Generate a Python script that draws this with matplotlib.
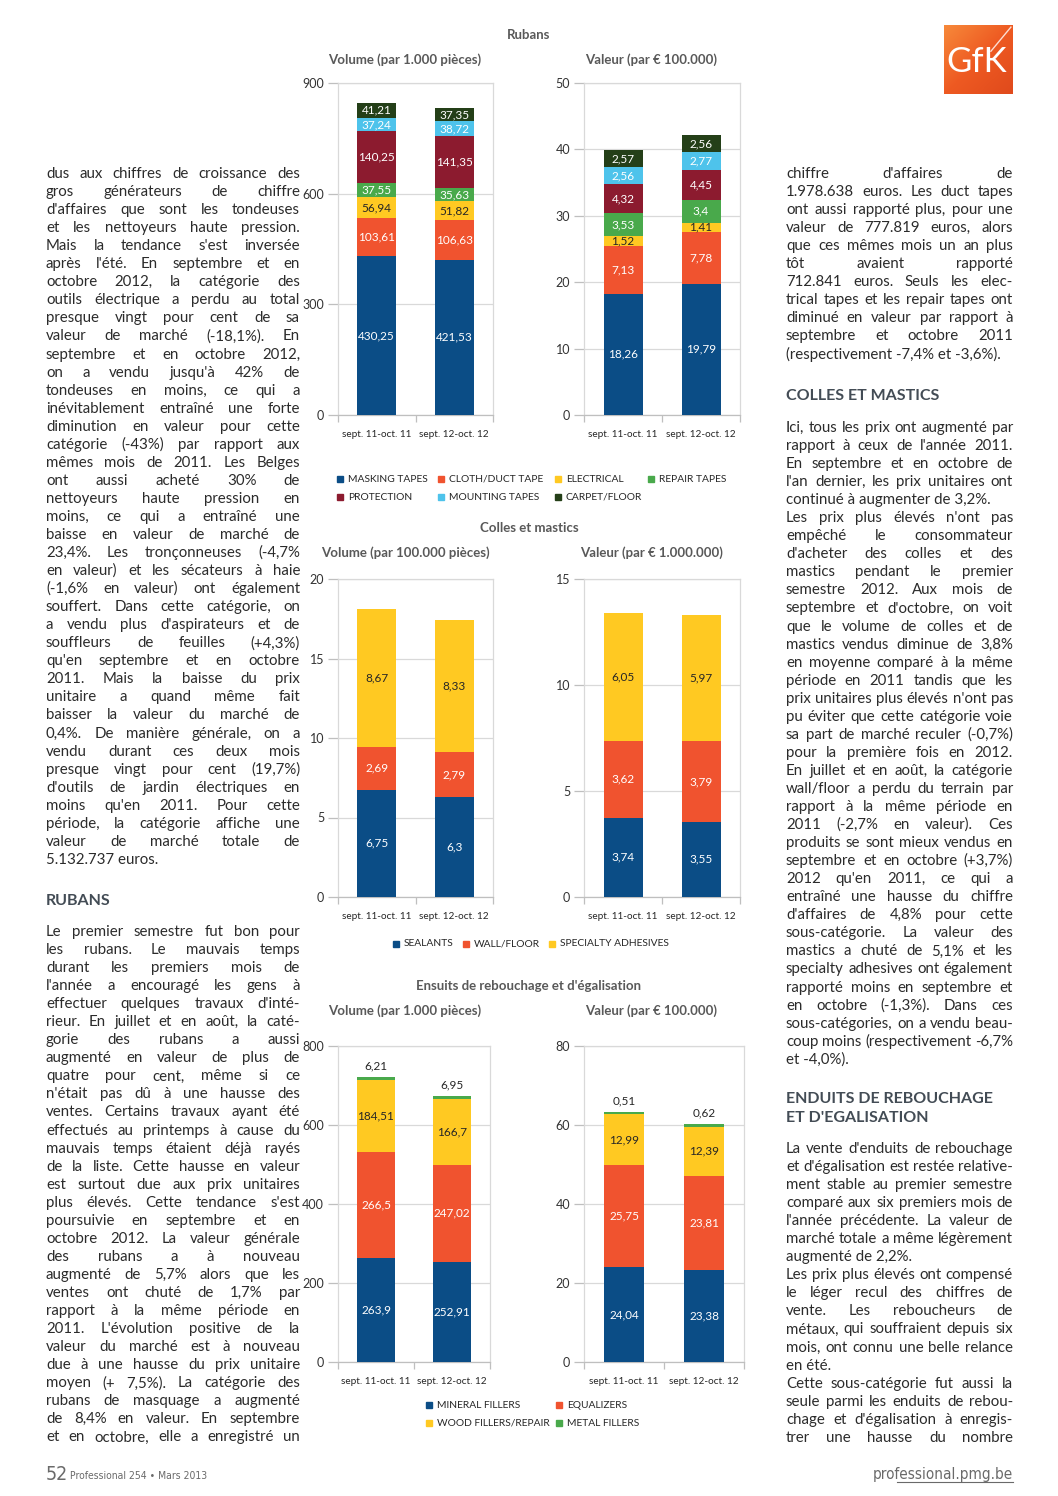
import matplotlib
matplotlib.use('Agg')
import numpy as np
import matplotlib.pyplot as plt
from matplotlib.patches import Rectangle
from matplotlib.lines import Line2D

W, H = 1058, 1496

# ---- data -------------------------------------------------------------
periods = ['sept. 11-oct. 11', 'sept. 12-oct. 12']

ruban_names = ['MASKING TAPES', 'CLOTH/DUCT TAPE', 'ELECTRICAL', 'REPAIR TAPES',
               'PROTECTION', 'MOUNTING TAPES', 'CARPET/FLOOR']
ruban_volume = [[430.25, 421.53], [103.61, 106.63], [56.94, 51.82], [37.55, 35.63],
                [140.25, 141.35], [37.24, 38.72], [41.21, 37.35]]
ruban_valeur = [[18.26, 19.79], [7.13, 7.78], [1.52, 1.41], [3.53, 3.4],
                [4.32, 4.45], [2.56, 2.77], [2.57, 2.56]]

colles_names = ['SEALANTS', 'WALL/FLOOR', 'SPECIALTY ADHESIVES']
colles_volume = [[6.75, 6.3], [2.69, 2.79], [8.67, 8.33]]
colles_valeur = [[3.74, 3.55], [3.62, 3.79], [6.05, 5.97]]

enduits_names = ['MINERAL FILLERS', 'EQUALIZERS', 'WOOD FILLERS/REPAIR', 'METAL FILLERS']
enduits_volume = [[263.9, 252.91], [266.5, 247.02], [184.51, 166.7], [6.21, 6.95]]
enduits_valeur = [[24.04, 23.38], [25.75, 23.81], [12.99, 12.39], [0.51, 0.62]]

BLUE = '#0B4D86'
ORANGE = '#F0532F'
YELLOW = '#FFC922'
GREEN = '#49A94B'
DARKRED = '#8C1B2F'
LIGHTBLUE = '#4EC3EB'
DARKGREEN = '#243F18'

ruban_colors = [BLUE, ORANGE, YELLOW, GREEN, DARKRED, LIGHTBLUE, DARKGREEN]
colles_colors = [BLUE, ORANGE, YELLOW]
enduits_colors = [BLUE, ORANGE, YELLOW, GREEN]

# ---- text -------------------------------------------------------------
left_1 = [[
    "dus aux chiffres de croissance des",
    "gros générateurs de chiffre",
    "d'affaires que sont les tondeuses",
    "et les nettoyeurs haute pression.",
    "Mais la tendance s'est inversée",
    "après l'été. En septembre et en",
    "octobre 2012, la catégorie des",
    "outils électrique a perdu au total",
    "presque vingt pour cent de sa",
    "valeur de marché (-18,1%). En",
    "septembre et en octobre 2012,",
    "on a vendu jusqu'à 42% de",
    "tondeuses en moins, ce qui a",
    "inévitablement entraîné une forte",
    "diminution en valeur pour cette",
    "catégorie (-43%) par rapport aux",
    "mêmes mois de 2011. Les Belges",
    "ont aussi acheté 30% de",
    "nettoyeurs haute pression en",
    "moins, ce qui a entraîné une",
    "baisse en valeur de marché de",
    "23,4%. Les tronçonneuses (-4,7%",
    "en valeur) et les sécateurs à haie",
    "(-1,6% en valeur) ont également",
    "souffert. Dans cette catégorie, on",
    "a vendu plus d'aspirateurs et de",
    "souffleurs de feuilles (+4,3%)",
    "qu'en septembre et en octobre",
    "2011. Mais la baisse du prix",
    "unitaire a quand même fait",
    "baisser la valeur du marché de",
    "0,4%. De manière générale, on a",
    "vendu durant ces deux mois",
    "presque vingt pour cent (19,7%)",
    "d'outils de jardin électriques en",
    "moins qu'en 2011. Pour cette",
    "période, la catégorie affiche une",
    "valeur de marché totale de",
    "5.132.737 euros.",
]]

left_2 = [[
    "Le premier semestre fut bon pour",
    "les rubans. Le mauvais temps",
    "durant les premiers mois de",
    "l'année a encouragé les gens à",
    "effectuer quelques travaux d'inté-",
    "rieur. En juillet et en août, la caté-",
    "gorie des rubans a aussi",
    "augmenté en valeur de plus de",
    "quatre pour cent, même si ce",
    "n'était pas dû à une hausse des",
    "ventes. Certains travaux ayant été",
    "effectués au printemps à cause du",
    "mauvais temps étaient déjà rayés",
    "de la liste. Cette hausse en valeur",
    "est surtout due aux prix unitaires",
    "plus élevés. Cette tendance s'est",
    "poursuivie en septembre et en",
    "octobre 2012. La valeur générale",
    "des rubans a à nouveau",
    "augmenté de 5,7% alors que les",
    "ventes ont chuté de 1,7% par",
    "rapport à la même période en",
    "2011. L'évolution positive de la",
    "valeur du marché est à nouveau",
    "due à une hausse du prix unitaire",
    "moyen (+ 7,5%). La catégorie des",
    "rubans de masquage a augmenté",
    "de 8,4% en valeur. En septembre",
    "et en octobre, elle a enregistré un",
]]

right_1 = [[
    "chiffre d'affaires de",
    "1.978.638 euros. Les duct tapes",
    "ont aussi rapporté plus, pour une",
    "valeur de 777.819 euros, alors",
    "que ces mêmes mois un an plus",
    "tôt avaient rapporté",
    "712.841 euros. Seuls les elec-",
    "trical tapes et les repair tapes ont",
    "diminué en valeur par rapport à",
    "septembre et octobre 2011",
    "(respectivement -7,4% et -3,6%).",
]]

right_2 = [[
    "Ici, tous les prix ont augmenté par",
    "rapport à ceux de l'année 2011.",
    "En septembre et en octobre de",
    "l'an dernier, les prix unitaires ont",
    "continué à augmenter de 3,2%.",
], [
    "Les prix plus élevés n'ont pas",
    "empêché le consommateur",
    "d'acheter des colles et des",
    "mastics pendant le premier",
    "semestre 2012. Aux mois de",
    "septembre et d'octobre, on voit",
    "que le volume de colles et de",
    "mastics vendus diminue de 3,8%",
    "en moyenne comparé à la même",
    "période en 2011 tandis que les",
    "prix unitaires plus élevés n'ont pas",
    "pu éviter que cette catégorie voie",
    "sa part de marché reculer (-0,7%)",
    "pour la première fois en 2012.",
    "En juillet et en août, la catégorie",
    "wall/floor a perdu du terrain par",
    "rapport à la même période en",
    "2011 (-2,7% en valeur). Ces",
    "produits se sont mieux vendus en",
    "septembre et en octobre (+3,7%)",
    "2012 qu'en 2011, ce qui a",
    "entraîné une hausse du chiffre",
    "d'affaires de 4,8% pour cette",
    "sous-catégorie. La valeur des",
    "mastics a chuté de 5,1% et les",
    "specialty adhesives ont également",
    "rapporté moins en septembre et",
    "en octobre (-1,3%). Dans ces",
    "sous-catégories, on a vendu beau-",
    "coup moins (respectivement -6,7%",
    "et -4,0%).",
]]

right_3 = [[
    "La vente d'enduits de rebouchage",
    "et d'égalisation est restée relative-",
    "ment stable au premier semestre",
    "comparé aux six premiers mois de",
    "l'année précédente. La valeur de",
    "marché totale a même légèrement",
    "augmenté de 2,2%.",
], [
    "Les prix plus élevés ont compensé",
    "le léger recul des chiffres de",
    "vente. Les reboucheurs de",
    "métaux, qui souffraient depuis six",
    "mois, ont connu une belle relance",
    "en été.",
], [
    "Cette sous-catégorie fut aussi la",
    "seule parmi les enduits de rebou-",
    "chage et d'égalisation à enregis-",
    "trer une hausse du nombre",
]]

SANS = ['Lato', 'DejaVu Sans']
BODY = dict(family=SANS, size=10.8, weight='normal', color='#2b2b2b', va='baseline', ha='left')
HEAD = dict(family=SANS, size=11.5, weight='bold', color='#434c55', va='center', ha='left')
TITLE = dict(family=SANS, size=9.5, weight='bold', color='#595959', va='center', ha='center')
FOOT = dict(family='DejaVu Sans', stretch='condensed', color='#6a6a6a', va='baseline')

fig = plt.figure(figsize=(W / 100, H / 100), dpi=100)
fig.patch.set_facecolor('white')


def fx(x):
    return x / W


def fy(y):
    return 1 - y / H


def column(paras, x0, x1, y0, cont=False, step=18.05):
    r = fig.canvas.get_renderer()
    y = y0
    for p, para in enumerate(paras):
        for k, line in enumerate(para):
            base = fy(y + 5)
            last = (k == len(para) - 1) and not (cont and p == len(paras) - 1)
            words = line.split()
            if last or len(words) == 1:
                fig.text(fx(x0), base, line, **BODY)
            else:
                txts = [fig.text(0, base, w, **BODY) for w in words]
                ws = [t.get_window_extent(r).width for t in txts]
                gap = max((x1 - x0 - sum(ws)) / (len(words) - 1), 2.5)
                x = x0
                for t, w in zip(txts, ws):
                    t.set_x(fx(x))
                    x += w + gap
            y += step


def fmt(v):
    return '{:g}'.format(v).replace('.', ',')


def chart(box, data, colors, ymax, step, dark_idx=(), above_idx=()):
    x0, y0, x1, y1 = box
    ax = fig.add_axes([fx(x0), fy(y1), fx(x1 - x0), (y1 - y0) / H])
    xs = np.arange(len(periods))
    bottom = np.zeros(len(periods))
    for i, (vals, c) in enumerate(zip(data, colors)):
        vals = np.array(vals)
        ax.bar(xs, vals, 0.5, bottom=bottom, color=c, zorder=3)
        for x, b, v in zip(xs, bottom, vals):
            if i in above_idx:
                ax.annotate(fmt(v), (x, b + v), xytext=(0, 4), textcoords='offset points',
                            ha='center', va='bottom', fontsize=8.5, color='#262626',
                            family=SANS)
            else:
                col = '#262626' if i in dark_idx else 'white'
                ax.text(x, b + v / 2, fmt(v), ha='center', va='center', fontsize=8.5,
                        color=col, family=SANS, zorder=4)
        bottom = bottom + vals
    ax.set_xlim(-0.5, len(periods) - 0.5)
    ax.set_ylim(0, ymax)
    ax.set_yticks(np.arange(0, ymax + step / 2, step))
    ax.yaxis.grid(True, color='#d9d9d9', lw=0.9, zorder=0)
    for s in ['left', 'right', 'top']:
        ax.spines[s].set_color('#d9d9d9')
        ax.spines[s].set_linewidth(0.9)
    ax.spines['bottom'].set_color('#bfbfbf')
    ax.spines['bottom'].set_linewidth(0.9)
    ax.tick_params(axis='y', length=7, width=0.9, color='#bfbfbf', labelsize=9,
                   labelcolor='#333333', pad=3)
    for t in ax.get_yticklabels():
        t.set_family(SANS)
    ax.set_xticks([-0.5, 0.5, 1.5])
    ax.set_xticklabels([])
    ax.set_xticks(xs, minor=True)
    ax.set_xticklabels(periods, minor=True, fontsize=7.2, color='#262626', family=SANS)
    ax.tick_params(axis='x', which='major', length=5, width=0.9, color='#bfbfbf')
    ax.tick_params(axis='x', which='minor', length=0, pad=11)
    return ax


def legend(items, colors):
    for (name, x, y), c in zip(items, colors):
        fig.patches.append(Rectangle((fx(x), fy(y + 3)), fx(6), 6 / H, color=c,
                                     transform=fig.transFigure, figure=fig))
        fig.text(fx(x + 11), fy(y), name, fontsize=7.4, color='#262626', family=SANS,
                 va='center', ha='left')


# ---- charts -----------------------------------------------------------
fig.text(fx(529), fy(35), 'Rubans', **TITLE)
fig.text(fx(405), fy(60), 'Volume (par 1.000 pièces)', **TITLE)
fig.text(fx(651), fy(60), 'Valeur (par € 100.000)', **TITLE)
chart((338, 83, 493, 415), ruban_volume, ruban_colors, 900, 300, dark_idx=(2,))
chart((584, 83, 740, 415), ruban_valeur, ruban_colors, 50, 10, dark_idx=(2,))
rpos = [(337, 479), (438, 479), (555, 479), (648, 479), (337, 497), (438, 497), (555, 497)]
legend([(n, x, y) for n, (x, y) in zip(ruban_names, rpos)], ruban_colors)

fig.text(fx(529), fy(528), 'Colles et mastics', **TITLE)
fig.text(fx(405), fy(553), 'Volume (par 100.000 pièces)', **TITLE)
fig.text(fx(652), fy(553), 'Valeur (par € 1.000.000)', **TITLE)
chart((338, 579, 493, 897), colles_volume, colles_colors, 20, 5, dark_idx=(2,))
chart((584, 579, 740, 897), colles_valeur, colles_colors, 15, 5, dark_idx=(2,))
cpos = [(393, 944), (463, 944), (549, 944)]
legend([(n, x, y) for n, (x, y) in zip(colles_names, cpos)], colles_colors)

fig.text(fx(529), fy(986), "Ensuits de rebouchage et d'égalisation", **TITLE)
fig.text(fx(405), fy(1011), 'Volume (par 1.000 pièces)', **TITLE)
fig.text(fx(651), fy(1011), 'Valeur (par € 100.000)', **TITLE)
chart((338, 1046, 490, 1362), enduits_volume, enduits_colors, 800, 200,
      dark_idx=(2,), above_idx=(3,))
chart((584, 1046, 744, 1362), enduits_valeur, enduits_colors, 80, 20,
      dark_idx=(2,), above_idx=(3,))
epos = [(426, 1405), (556, 1405), (426, 1423), (556, 1423)]
legend([(n, x, y) for n, (x, y) in zip(enduits_names, epos)], enduits_colors)

# ---- text columns -----------------------------------------------------
column(left_1, 46, 300, 173)
fig.text(fx(46), fy(901), 'RUBANS', **HEAD)
column(left_2, 46, 300, 931, cont=True)

column(right_1, 786, 1013, 173)
fig.text(fx(786), fy(396), 'COLLES ET MASTICS', **HEAD)
column(right_2, 786, 1013, 427)
fig.text(fx(786), fy(1099), 'ENDUITS DE REBOUCHAGE', **HEAD)
fig.text(fx(786), fy(1118), "ET D'EGALISATION", **HEAD)
column(right_3, 786, 1013, 1148, cont=True)

# ---- logo -------------------------------------------------------------
lax = fig.add_axes([fx(944), fy(94), fx(69), 69 / H])
grad = np.linspace(0, 1, 64)
g = (grad[None, :] + grad[:, None]) / 2
lax.imshow(g, cmap=matplotlib.colors.LinearSegmentedColormap.from_list(
    'gfk', ['#F7893A', '#EE5A22', '#E04A1C']), extent=(0, 1, 0, 1), aspect='auto')
lax.text(0.48, 0.46, 'GfK', color='white', fontsize=25, family=SANS, weight='normal',
         ha='center', va='center')
lax.plot([0.97, 0.68], [0.97, 0.62], color='white', lw=1, alpha=0.8)
lax.set_xlim(0, 1)
lax.set_ylim(0, 1)
lax.axis('off')

# ---- footer -----------------------------------------------------------
fig.text(fx(46), fy(1480), '52', fontsize=14, ha='left', **FOOT)
fig.text(fx(70), fy(1479), 'Professional 254 • Mars 2013', fontsize=7.5, ha='left', **FOOT)
fig.text(fx(1013), fy(1479), 'professional.pmg.be', fontsize=11, ha='right', **FOOT)
fig.lines.append(Line2D([fx(897), fx(1013)], [fy(1482), fy(1482)], color='#6a6a6a',
                        lw=0.8, transform=fig.transFigure))

fig.savefig('out.png', dpi=100, facecolor='white')
